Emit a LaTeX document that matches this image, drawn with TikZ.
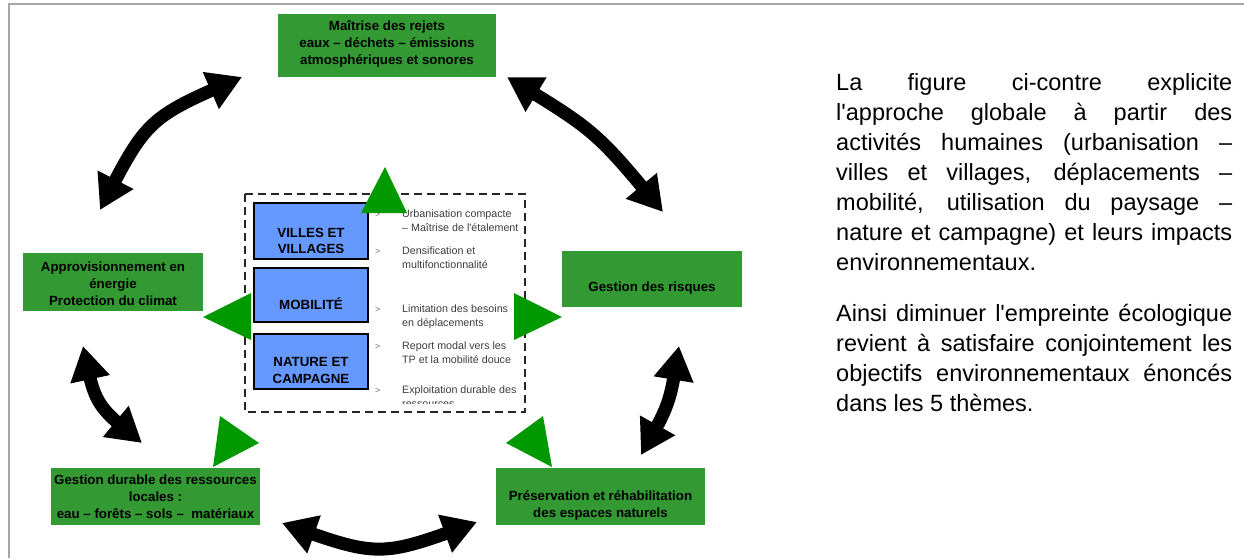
\documentclass[tikz,border=0pt]{standalone}
\usepackage{fontspec}
\setmainfont{Liberation Sans}[Ligatures=TeXOff]
\usetikzlibrary{arrows.meta,bending}
\definecolor{themeGreen}{RGB}{51,153,51}
\definecolor{arrowGreen}{RGB}{0,153,0}
\definecolor{activityBlue}{RGB}{102,153,255}
\definecolor{frameGray}{RGB}{166,166,166}
\definecolor{itemGray}{RGB}{60,60,60}
\tikzset{ecopanel/.style={
  x=1pt, y=-1pt,
  theme/.style={fill=themeGreen, draw=none, inner sep=0pt},
  themetext/.style={inner sep=0pt, align=center, font=\fontsize{13.3}{17}\selectfont\bfseries},
  activity/.style={fill=activityBlue, draw=black, line width=1.5pt, inner sep=0pt, minimum width=114pt},
  activitytext/.style={inner sep=0pt, align=center, font=\fontsize{13.3}{16.5}\selectfont\bfseries},
  item/.style={anchor=base west, inner sep=0pt, align=left, text=itemGray, font=\fontsize{10.7}{14}\selectfont},
  bulletmark/.style={anchor=base west, inner sep=0pt, text=black!55, font=\fontsize{9}{11}\selectfont},
  link/.style={{Triangle[length=34pt,width=38pt,flex]}-{Triangle[length=34pt,width=38pt,flex]}, line width=13pt},
  pointer/.style={fill=arrowGreen, draw=none},
  dashbox/.style={draw=black!85, line width=1.5pt, dash pattern=on 8pt off 5pt},
  para/.style={anchor=base west, inner sep=0pt, text width=396pt, align=justify, font=\fontsize{23.5}{30}\selectfont},
}}
\begin{document}
\begin{tikzpicture}[ecopanel]
\useasboundingbox (0,0) rectangle (1244,558);
% ---- frame (top and left edge only) ----
\draw[frameGray, line width=1.5pt] (9,558) -- (9,4) -- (1244,4);

% ---- five environmental themes ----
\node[theme, minimum width=218pt, minimum height=63pt] (rejetsbox) at (387,45.5) {};
\node[themetext] (rejets) at (387,44)
  {Maîtrise des rejets\\eaux – déchets – émissions\\atmosphériques et sonores};
\node[theme, minimum width=180pt, minimum height=58pt] (energiebox) at (113,282) {};
\node[themetext] (energie) at (113,284)
  {Approvisionnement en\\énergie\\Protection du climat};
\node[theme, minimum width=180pt, minimum height=56pt] (risquesbox) at (652,279) {};
\node[themetext] (risques) at (652,288) {Gestion des risques};
\node[theme, minimum width=209pt, minimum height=57pt] (ressourcesbox) at (155.5,496.5) {};
\node[themetext] (ressources) at (155.5,497)
  {Gestion durable des ressources\\locales :\\eau – forêts – sols –~ matériaux};
\node[theme, minimum width=209pt, minimum height=57pt] (espacesbox) at (600.5,496.5) {};
\node[themetext] (espaces) at (600.5,505.5)
  {Préservation et réhabilitation\\des espaces naturels};

% ---- human activities in the dashed frame ----
\draw[dashbox] (245,194) rectangle (525,412);
\node[activity, minimum height=56pt] (villesbox) at (311,231) {};
\node[activitytext] (villes) at (311,241) {VILLES ET\\VILLAGES};
\node[activity, minimum height=54pt] (mobilitebox) at (311,295) {};
\node[activitytext] (mobilite) at (311,304) {MOBILITÉ};
\node[activity, minimum height=55pt] (naturebox) at (311,361.5) {};
\node[activitytext] (nature) at (311,370.5) {NATURE ET\\CAMPAGNE};

\begin{scope}
\clip (245,190) rectangle (525,403);
\foreach \y/\nm in {217.5/m1,254/m2,312.7/m3,349/m4,393.3/m5}{
  \node[bulletmark] (\nm) at (375,\y) {>};
}
\node[item] (urba) at (402,231.5) {Urbanisation compacte\\– Maîtrise de l'étalement};
\node[item] (dens) at (402,268) {Densification et\\multifonctionnalité};
\node[item] (limi) at (402,326.7) {Limitation des besoins\\en déplacements};
\node[item] (report) at (402,363) {Report modal vers les\\TP et la mobilité douce};
\node[item] (exploit) at (402,407.3) {Exploitation durable des\\ressources};
\end{scope}

% ---- green pointers from the activities to the themes ----
\fill[pointer] (361,213) -- (385,167) -- (407,213) -- cycle;
\fill[pointer] (251,293) -- (203,317) -- (251,340) -- cycle;
\fill[pointer] (514,293) -- (562,317) -- (514,340) -- cycle;
\fill[pointer] (220,416) -- (259,443) -- (213,467) -- cycle;
\fill[pointer] (543,416) -- (506,443) -- (552,467) -- cycle;

% ---- black double arrows between neighbouring themes ----
\coordinate (tlA) at (100,210);  \coordinate (tlB) at (242,77);
\coordinate (trA) at (507,77);   \coordinate (trB) at (663,212);
\coordinate (lA)  at (83,346);   \coordinate (lB)  at (142,443);
\coordinate (bA)  at (282,523);  \coordinate (bB)  at (477,522);
\coordinate (rA)  at (679,346);  \coordinate (rB)  at (641,455);
\draw[link] (tlA) .. controls (147,118) .. (tlB);
\draw[link] (trA) .. controls (596,131) .. (trB);
\draw[link] (lA)  .. controls (95,405)  .. (lB);
\draw[link] (bA)  .. controls (379.5,558) .. (bB);
\draw[link] (rA)  .. controls (670,404) .. (rB);

% ---- explanatory text ----
\node[para] (intro) at (836,90)
  {La figure ci-contre explicite\linebreak l'approche globale à partir des\linebreak activités humaines (urbanisation –\linebreak villes et villages, déplacements –\linebreak mobilité, utilisation du paysage –\linebreak nature et campagne) et leurs impacts\linebreak environnementaux.};
\node[para] (concl) at (836,321)
  {Ainsi diminuer l'empreinte écologique\linebreak revient à satisfaire conjointement les\linebreak objectifs environnementaux énoncés\linebreak dans les 5 thèmes.};
\end{tikzpicture}
\end{document}
